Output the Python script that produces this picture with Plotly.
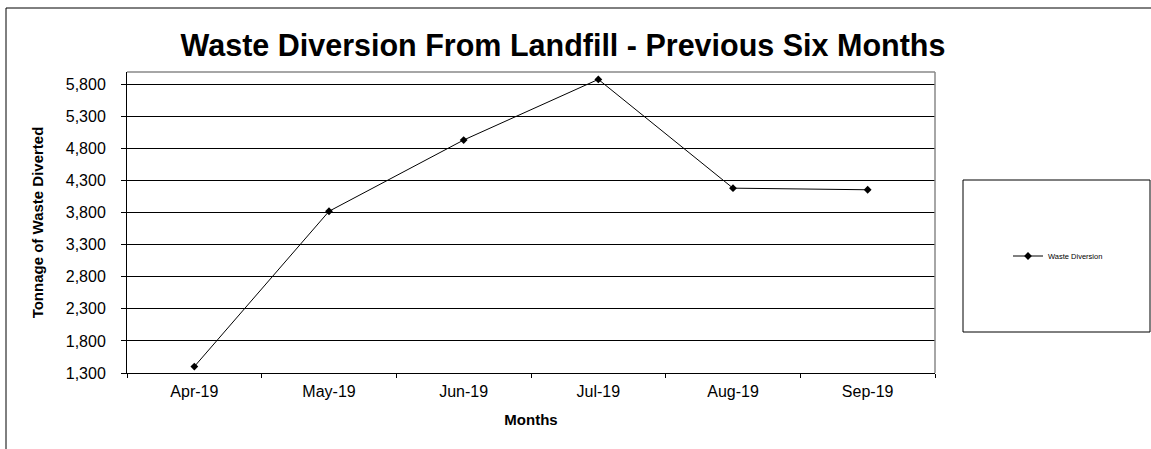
import plotly.graph_objects as go

# Monthly tonnage diverted from landfill
months = ["Apr-19", "May-19", "Jun-19", "Jul-19", "Aug-19", "Sep-19"]
tonnage = [1400, 3820, 4930, 5875, 4180, 4155]
tick_vals = [1300, 1800, 2300, 2800, 3300, 3800, 4300, 4800, 5300, 5800]

W, H = 1151, 449
L, R, T, B = 127, 935, 72, 373  # plot area in pixels


def px(x):
    return (x - L) / (R - L)


def py(y):
    return (B - y) / (B - T)


fig = go.Figure()
fig.add_trace(go.Scatter(
    x=months, y=tonnage, mode="lines+markers", name="Waste Diversion",
    line=dict(color="black", width=1),
    marker=dict(symbol="diamond", size=6, color="black"),
))

font = "Arial, Liberation Sans, sans-serif"

fig.update_layout(
    width=W, height=H,
    margin=dict(l=L, r=W - R, t=T, b=H - B, pad=0),
    paper_bgcolor="white", plot_bgcolor="white",
    font=dict(family=font, color="black", size=16),
    title=dict(text="<b>Waste Diversion From Landfill - Previous Six Months</b>",
               font=dict(size=30.5, family=font, color="black"),
               xref="paper", x=px(563), xanchor="center",
               yref="container", y=1 - 45 / H, yanchor="middle"),
    showlegend=True,
    legend=dict(x=px(1008), y=py(256), xanchor="left", yanchor="middle",
                font=dict(size=7.5, family=font), bgcolor="rgba(0,0,0,0)",
                borderwidth=0, itemwidth=30),
    xaxis=dict(
        type="category", range=[-0.5, 5.5],
        showline=True, linecolor="black", linewidth=1,
        ticks="outside", tickson="boundaries", ticklen=4, tickcolor="black",
        showgrid=False, tickfont=dict(size=16), ticklabelstandoff=4,
        title=dict(text="<b>Months</b>", font=dict(size=15), standoff=15),
    ),
    yaxis=dict(
        range=[1300, 5990], tickvals=tick_vals,
        ticktext=[f"{v:,}" for v in tick_vals],
        showline=True, linecolor="black", linewidth=1,
        ticks="outside", ticklen=5, tickcolor="black",
        showgrid=True, gridcolor="black", gridwidth=1,
        zeroline=False, tickfont=dict(size=16), ticklabelstandoff=12,
        title=dict(text="<b>Tonnage of Waste Diverted</b>", font=dict(size=15),
                   standoff=18),
    ),
    shapes=[
        # gray border on top and right of the plot area
        dict(type="line", xref="paper", yref="paper", x0=0, x1=1, y0=1, y1=1,
             line=dict(color="#888888", width=1.5)),
        dict(type="line", xref="paper", yref="paper", x0=1, x1=1, y0=0, y1=1,
             line=dict(color="#888888", width=1.5)),
        # outer chart frame
        dict(type="line", xref="paper", yref="paper", x0=px(6), x1=px(1160),
             y0=py(8), y1=py(8), line=dict(color="black", width=1)),
        dict(type="line", xref="paper", yref="paper", x0=px(6), x1=px(6),
             y0=py(8), y1=py(460), line=dict(color="black", width=1)),
        # legend box
        dict(type="rect", xref="paper", yref="paper", x0=px(963), x1=px(1150),
             y0=py(180), y1=py(332), line=dict(color="black", width=1)),
    ],
)

fig.write_html("out.html")
